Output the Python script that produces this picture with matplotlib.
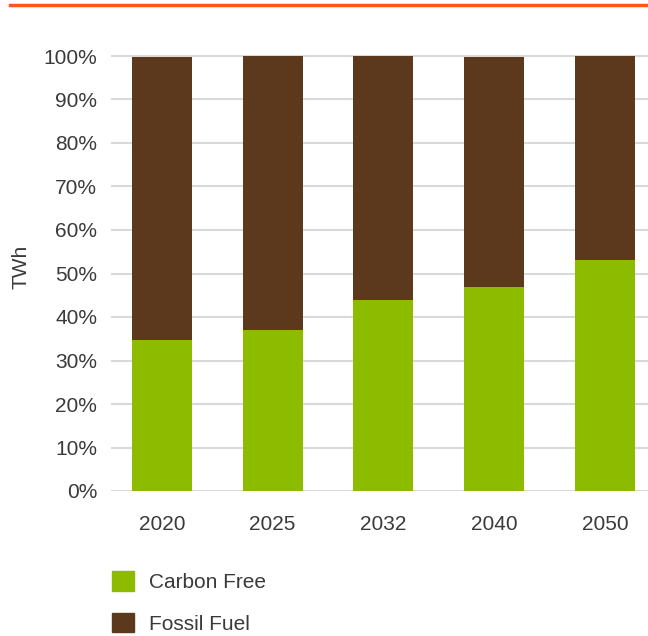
import matplotlib.pyplot as plt
from matplotlib.lines import Line2D
from matplotlib.patches import Patch

years = ["2020", "2025", "2032", "2040", "2050"]
carbon_free = [34.6, 36.9, 44.0, 46.8, 53.0]
fossil_fuel = [65.1, 63.1, 56.0, 52.9, 47.0]
y_ticks = [0, 10, 20, 30, 40, 50, 60, 70, 80, 90, 100]

GREEN = "#8DBB00"
BROWN = "#5C381D"
TEXT = "#3a3a3a"

plt.rcParams["font.family"] = ["Liberation Sans", "DejaVu Sans"]

fig = plt.figure(figsize=(6.48, 6.36), dpi=100)
# axes spans 0..101 so the 100% gridline is not clipped
ax = fig.add_axes([111 / 648, 1 - 491 / 636, 1 - 111 / 648, (491 - 56) / 636 * 1.01])

x = range(len(years))
ax.bar(x, carbon_free, width=0.54, color=GREEN, zorder=2)
ax.bar(x, fossil_fuel, width=0.54, bottom=carbon_free, color=BROWN, zorder=2)

ax.set_xlim(-0.46, 4.39)
ax.set_ylim(0, 101)
ax.set_yticks(y_ticks)
ax.set_yticklabels([f"{t}%" for t in y_ticks])
ax.set_xticks(list(x))
ax.set_xticklabels(years)
ax.tick_params(axis="both", length=0, labelsize=15, colors=TEXT)
ax.tick_params(axis="y", pad=10)
ax.tick_params(axis="x", pad=17)
ax.grid(axis="y", color="#d9d9d9", linewidth=1.5, zorder=0)
for s in ax.spines.values():
    s.set_visible(False)
ax.set_ylabel("TWh", fontsize=15, color=TEXT)
ax.yaxis.set_label_coords(-0.15, 0.51)

# orange rule at the top
fig.add_artist(Line2D([10 / 648, 1], [1 - 5 / 636] * 2, color="#FF5522", linewidth=2.5))

handles = [Patch(color=GREEN), Patch(color=BROWN)]
fig.legend(handles, ["Carbon Free", "Fossil Fuel"], loc="upper left",
           bbox_to_anchor=(104 / 648, 1 - 563 / 636), frameon=False,
           fontsize=15, handlelength=1.05, handleheight=1.05,
           labelspacing=1.0, handletextpad=0.7, labelcolor=TEXT,
           borderaxespad=0)

fig.savefig("out.png", dpi=100)
